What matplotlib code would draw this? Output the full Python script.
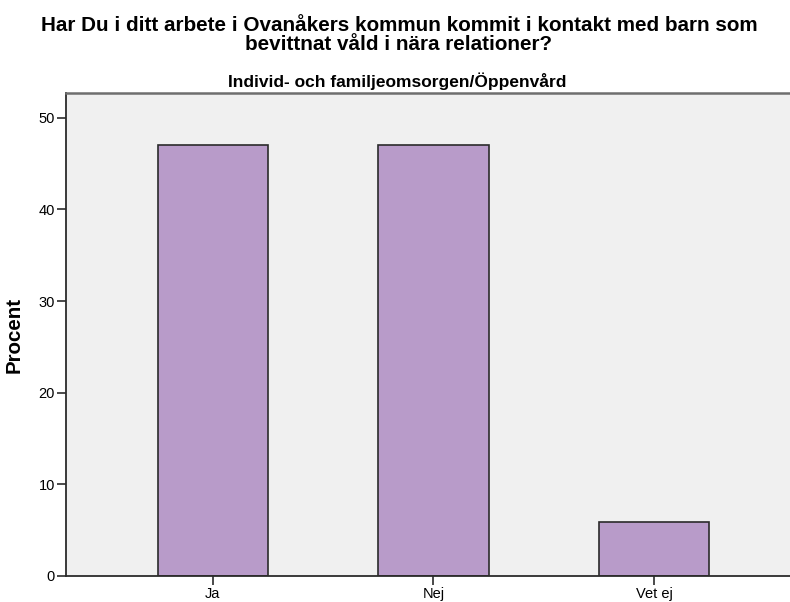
import matplotlib
matplotlib.use("Agg")
import matplotlib.pyplot as plt

# Data
kategorier = ["Ja", "Nej", "Vet ej"]
procent = [47.06, 47.06, 5.88]
y_ticks = [0, 10, 20, 30, 40, 50]

titel = ("Har Du i ditt arbete i Ovanåkers kommun kommit i kontakt med barn som\n"
         "bevittnat våld i nära relationer?")
undertitel = "Individ- och familjeomsorgen/Öppenvård"

plt.rcParams["font.family"] = ["Liberation Sans", "DejaVu Sans"]

fig = plt.figure(figsize=(7.9, 6.02), dpi=100)
ax = fig.add_axes([0.0835, 0.0432, 0.9304, 0.8023])
ax.set_facecolor("#f0f0f0")

x = list(range(len(kategorier)))
ax.bar(x, procent, width=0.5, color="#b89bc9", edgecolor="#2b2b2b", linewidth=1.2, zorder=2)

ax.set_xlim(-0.665, 2.665)
ax.set_ylim(0, 52.7)
ax.set_xticks(x)
ax.set_xticklabels(kategorier, fontsize=10.5)
ax.set_yticks(y_ticks)
ax.set_yticklabels([str(t) for t in y_ticks], fontsize=10.5)
ax.tick_params(axis="both", direction="out", length=6.5, width=1.2, color="#2b2b2b", pad=1.5)

for side in ["left", "bottom"]:
    ax.spines[side].set_color("#2b2b2b")
    ax.spines[side].set_linewidth(1.3)
ax.spines["top"].set_color("#6e6e6e")
ax.spines["top"].set_linewidth(1.8)
ax.spines["right"].set_visible(False)

ax.set_ylabel("Procent", fontsize=14.8, fontweight="bold")
ax.yaxis.set_label_coords(-0.057, 0.5)

fig.text(0.505, 0.973, titel, ha="center", va="top", fontsize=14.9, fontweight="bold",
         linespacing=0.95)
fig.text(0.503, 0.865, undertitel, ha="center", va="center", fontsize=12.5, fontweight="bold")

fig.savefig("out.png", dpi=100)
